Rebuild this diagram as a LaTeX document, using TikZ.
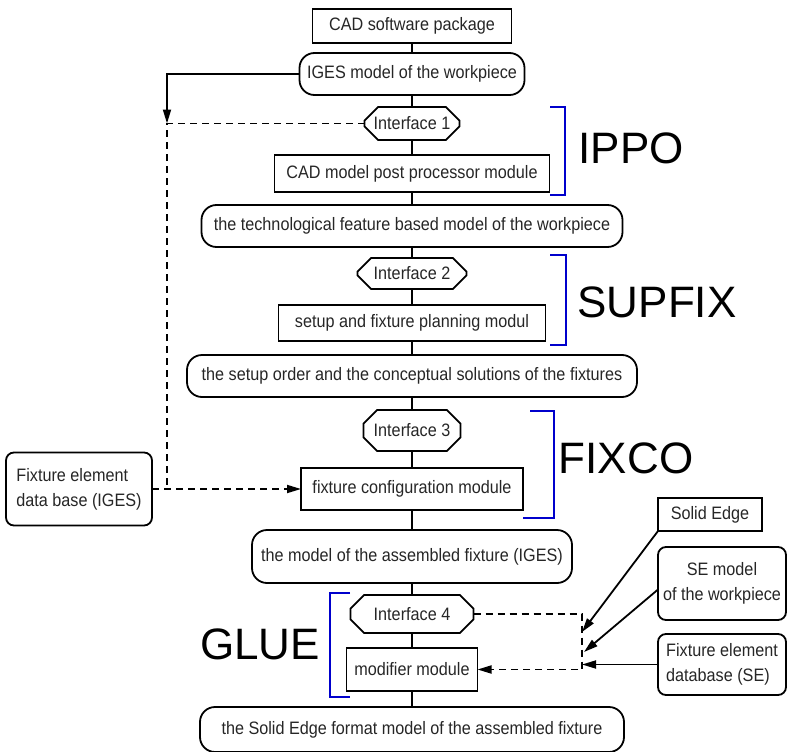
\documentclass[tikz,border=0pt]{standalone}
\usepackage{fontspec}
\setmainfont{Liberation Sans}[FakeStretch=0.9]
\newfontfamily\bigfont{Liberation Sans}
\usetikzlibrary{shapes.misc,arrows.meta,positioning}

\begin{document}
\begin{tikzpicture}[
    x=1pt, y=-1pt,
    font=\fontsize{18}{21}\selectfont,
    box/.style={
        rectangle,
        draw=black,
        line width=1.8pt,
        inner sep=0pt,
        outer sep=0pt,
        align=center,
        text=black!85
    },
    model/.style={box, rounded corners=15pt},
    store/.style={box, rounded corners=8pt, font=\fontsize{18}{25}\selectfont},
    iface/.style={
        chamfered rectangle,
        chamfered rectangle xsep=7pt,
        chamfered rectangle ysep=7pt,
        draw=black,
        line width=1.8pt,
        inner sep=0pt,
        outer sep=0pt,
        text=black!85
    },
    modname/.style={font=\bigfont\fontsize{44}{44}\selectfont},
    bracket/.style={draw=blue!80!black, line width=1.8pt},
    link/.style={line width=1.8pt},
    dlink/.style={link, dash pattern=on 7pt off 5pt},
    arr/.style={link, -{Triangle[length=14pt,width=8pt]}},
    darr/.style={dlink, -{Triangle[length=14pt,width=8pt]}},
]
\useasboundingbox (0,0) rectangle (787,752);

% main column
\node[box, minimum width=199pt, minimum height=34pt] (cad) at (412,26)
    {CAD software package};
\node[model, minimum width=225pt, minimum height=42pt, below=10pt of cad] (iges)
    {IGES model of the workpiece};
\node[iface, minimum width=95pt, minimum height=33pt, below=12pt of iges] (if1)
    {Interface 1};
\node[box, minimum width=275pt, minimum height=37pt, below=15pt of if1] (post)
    {CAD model post processor module};
\node[model, minimum width=421pt, minimum height=42pt, below=13pt of post] (tech)
    {the technological feature based model of the workpiece};
\node[iface, minimum width=109pt, minimum height=31pt, below=11pt of tech] (if2)
    {Interface 2};
\node[box, minimum width=267pt, minimum height=36pt, below=16pt of if2] (plan)
    {setup and fixture planning modul};
\node[model, minimum width=450pt, minimum height=42pt, below=14pt of plan] (order)
    {the setup order and the conceptual solutions of the fixtures};
\node[iface, minimum width=97pt, minimum height=41pt, below=13pt of order] (if3)
    {Interface 3};
\node[box, minimum width=222pt, minimum height=42pt, below=17pt of if3] (conf)
    {fixture configuration module};
\node[model, minimum width=320pt, minimum height=53pt, below=20pt of conf] (asm)
    {the model of the assembled fixture (IGES)};
\node[iface, minimum width=123pt, minimum height=38pt, below=12pt of asm] (if4)
    {Interface 4};
\node[box, minimum width=131pt, minimum height=43pt, below=15pt of if4] (mod)
    {modifier module};
\node[model, minimum width=424pt, minimum height=45pt, below=16pt of mod] (final)
    {the Solid Edge format model of the assembled fixture};

% side inputs
\node[store, minimum width=146pt, minimum height=73pt, align=left,
    left=149pt of conf] (feiges) {Fixture element\\data base (IGES)};
\node[box, minimum width=104pt, minimum height=33pt] (se) at (710,514.5)
    {Solid Edge};
\node[store, minimum width=128pt, minimum height=73pt] (semod) at (722,583.5)
    {SE model\\of the workpiece};
\node[store, minimum width=128pt, minimum height=61pt, align=left] (fese)
    at (722,664.5) {Fixture element\\database (SE)};

% module names
\node[modname] (ippo) at (631,148) {IPPO};
\node[modname] (supfix) at (657,302) {SUPFIX};
\node[modname] (fixco) at (626,458) {FIXCO};
\node[modname] (glue) at (260,644) {GLUE};

% brackets
\draw[bracket] (550,107) -- (565,107) -- (565,195) -- (550,195);
\draw[bracket] (550,255) -- (566,255) -- (566,345) -- (550,345);
\draw[bracket] (530,411) -- (554,411) -- (554,518) -- (523,518);
\draw[bracket] (350,593) -- (330,593) -- (330,697) -- (350,697);

% flow
\foreach \a/\b in {cad/iges, iges/if1, if1/post, post/tech, tech/if2,
    if2/plan, plan/order, order/if3, if3/conf, conf/asm, asm/if4,
    if4/mod, mod/final}
    \draw[link] (\a) -- (\b);

% IGES inputs
\coordinate (lj) at (167,0);
\draw[arr] (iges.west) -| (lj |- if1.west);
\draw[dlink] (if1.west) -- (lj |- if1.west) -- (lj |- conf.west);
\draw[darr] (feiges) -- (conf);

% Solid Edge inputs
\coordinate (rj) at (582,0);
\coordinate (t1) at (582,632);
\coordinate (t2) at (584,652);
\draw[darr] (if4.east) -| (rj |- mod.east) -- (mod.east);
\draw[arr] (se.south west) -- (t1);
\draw[arr] ([yshift=-6pt]semod.west) -- (t2);
\draw[arr] (fese) -- (rj |- fese.west);

\end{tikzpicture}
\end{document}
